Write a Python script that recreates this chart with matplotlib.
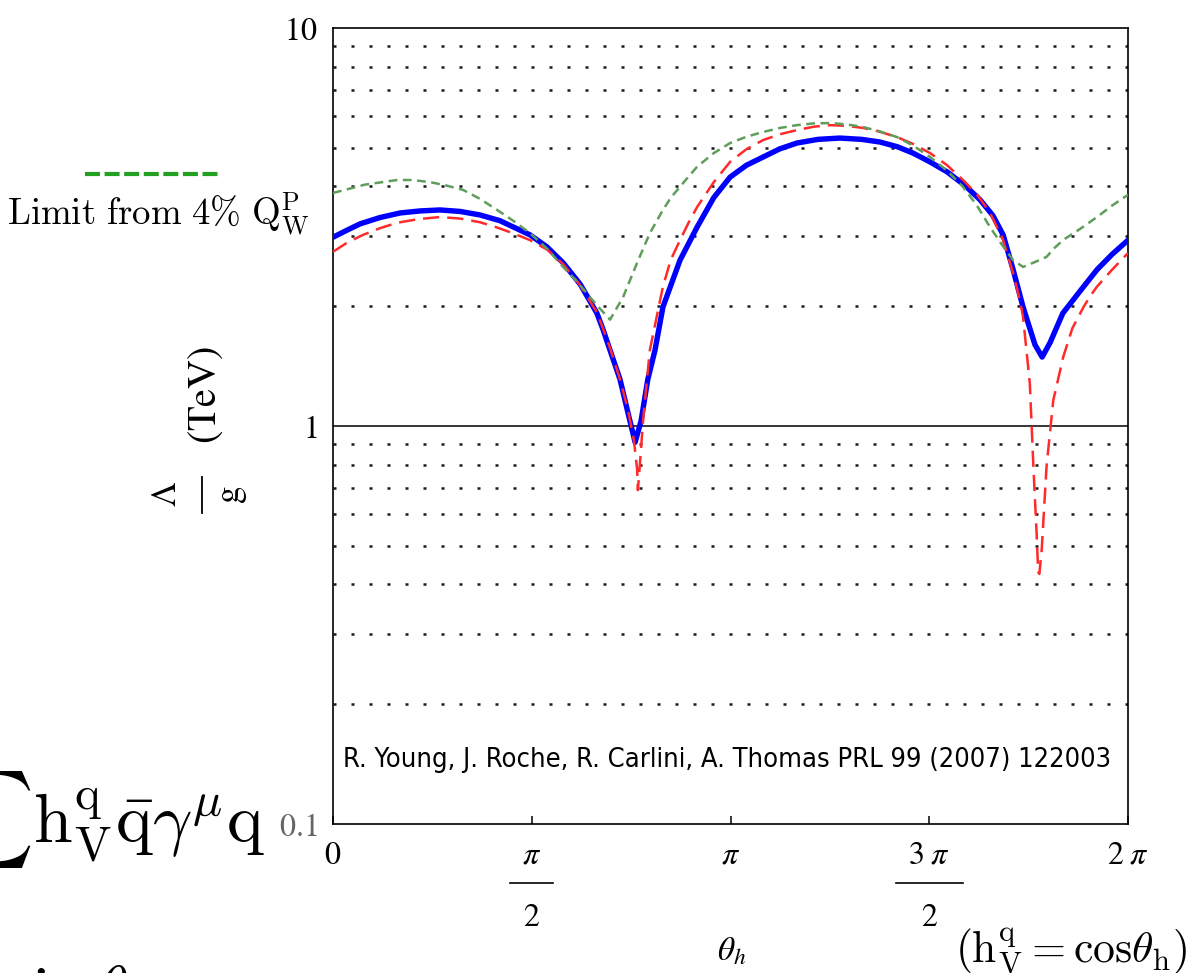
import numpy as np
import matplotlib
matplotlib.use("Agg")
import matplotlib.pyplot as plt
import matplotlib.transforms as mtransforms
from matplotlib.ticker import LogLocator, NullFormatter
from matplotlib.lines import Line2D

plt.rcParams['mathtext.fontset'] = 'stix'
plt.rcParams['font.family'] = ['DejaVu Sans']

# ---- data (theta in units of pi, Lambda/g in TeV) ----
blue_theta = [0.000, 0.034, 0.068, 0.118, 0.169, 0.219, 0.269, 0.320, 0.370, 0.420,
              0.496, 0.538, 0.579, 0.622, 0.664, 0.680, 0.697, 0.722, 0.742, 0.760,
              0.775, 0.792, 0.810, 0.830, 0.873, 0.916, 0.958, 0.999, 1.040, 1.082,
              1.124, 1.167, 1.220, 1.275, 1.330, 1.376, 1.420, 1.459, 1.500, 1.545,
              1.590, 1.628, 1.660, 1.686, 1.711, 1.736, 1.766, 1.784, 1.804, 1.836,
              1.879, 1.922, 1.960, 2.000]
blue_val = [2.98, 3.10, 3.22, 3.34, 3.43, 3.47, 3.49, 3.46, 3.39, 3.28,
            3.02, 2.82, 2.57, 2.27, 1.92, 1.74, 1.55, 1.31, 1.08, 0.91,
            1.03, 1.31, 1.55, 1.99, 2.61, 3.16, 3.75, 4.22, 4.52, 4.74,
            4.97, 5.14, 5.25, 5.29, 5.25, 5.17, 5.03, 4.85, 4.62, 4.35,
            4.02, 3.70, 3.38, 3.02, 2.47, 1.99, 1.60, 1.49, 1.62, 1.92,
            2.18, 2.47, 2.70, 2.93]

red_theta = [0.000, 0.036, 0.075, 0.118, 0.161, 0.215, 0.269, 0.320, 0.370, 0.410,
             0.453, 0.496, 0.540, 0.579, 0.620, 0.664, 0.680, 0.697, 0.722, 0.742,
             0.757, 0.765, 0.767, 0.772, 0.780, 0.790, 0.797, 0.830, 0.850, 0.873,
             0.895, 0.916, 0.958, 0.999, 1.040, 1.082, 1.125, 1.167, 1.210, 1.250,
             1.290, 1.333, 1.375, 1.419, 1.460, 1.502, 1.545, 1.585, 1.620, 1.653,
             1.685, 1.711, 1.728, 1.736, 1.753, 1.762, 1.770, 1.774, 1.777, 1.783,
             1.795, 1.812, 1.837, 1.860, 1.888, 1.905, 1.922, 1.960, 2.000]
red_val = [2.74, 2.89, 3.02, 3.14, 3.24, 3.31, 3.35, 3.32, 3.25, 3.16,
           3.05, 2.93, 2.77, 2.55, 2.27, 1.93, 1.75, 1.57, 1.31, 1.10,
           0.92, 0.78, 0.69, 0.80, 1.03, 1.31, 1.55, 2.24, 2.62, 2.93,
           3.25, 3.55, 4.10, 4.61, 4.96, 5.23, 5.41, 5.54, 5.65, 5.70,
           5.68, 5.61, 5.49, 5.32, 5.11, 4.85, 4.52, 4.15, 3.82, 3.43,
           2.95, 2.42, 2.07, 1.88, 1.28, 0.79, 0.54, 0.43, 0.425, 0.49,
           0.79, 1.16, 1.49, 1.76, 1.99, 2.12, 2.24, 2.47, 2.72]

green_theta = [0.000, 0.080, 0.161, 0.200, 0.244, 0.285, 0.327, 0.370, 0.413, 0.455,
               0.496, 0.540, 0.579, 0.615, 0.646, 0.670, 0.697, 0.730, 0.765, 0.797,
               0.830, 0.850, 0.873, 0.895, 0.916, 0.958, 0.999, 1.040, 1.082, 1.125,
               1.167, 1.210, 1.250, 1.290, 1.333, 1.375, 1.419, 1.460, 1.502, 1.545,
               1.585, 1.620, 1.653, 1.680, 1.711, 1.736, 1.765, 1.795, 1.815, 1.836,
               1.880, 1.922, 1.960, 2.000]
green_val = [3.85, 4.04, 4.15, 4.15, 4.10, 4.02, 3.92, 3.72, 3.49, 3.27,
             3.05, 2.78, 2.51, 2.30, 2.11, 1.98, 1.85, 2.11, 2.57, 3.05,
             3.49, 3.75, 3.99, 4.24, 4.48, 4.85, 5.14, 5.33, 5.48, 5.61,
             5.70, 5.76, 5.77, 5.73, 5.64, 5.50, 5.32, 5.06, 4.74, 4.38,
             3.99, 3.58, 3.16, 2.88, 2.61, 2.51, 2.58, 2.66, 2.80, 2.93,
             3.13, 3.35, 3.58, 3.81]

xtick_pos = [0.0, 0.5, 1.0, 1.5, 2.0]  # units of pi
xtick_num = [r'$0$', r'$\pi$', r'$\pi$', r'$3\;\pi$', r'$2\;\pi$']
xtick_den = [None, r'$2$', None, r'$2$', None]
ytick_pos = [0.1, 1, 10]
ytick_labels = [r'$0.1$', r'$1$', r'$10$']

W, H = 1196, 973
fig = plt.figure(figsize=(W / 100, H / 100), dpi=100)
ax = fig.add_axes([333 / W, 1 - 824 / H, 795 / W, 796 / H])
ax.set_yscale('log')
ax.set_xlim(0, 2 * np.pi)
ax.set_ylim(0.1, 10)

ax.plot(np.array(blue_theta) * np.pi, blue_val, color='#0000ff', lw=3.9,
        solid_joinstyle='round', solid_capstyle='round', zorder=3)
ax.plot(np.array(red_theta) * np.pi, red_val, color='#ff2a2a', lw=1.8,
        dashes=(6.5, 3.2), zorder=4)
ax.plot(np.array(green_theta) * np.pi, green_val, color='#5e9e5a', lw=1.8,
        dashes=(3.5, 2.2), zorder=5)

ax.axhline(1, color='black', lw=1.1, zorder=2)
ax.yaxis.set_minor_locator(LogLocator(base=10, subs=np.arange(2, 10)))
ax.yaxis.set_minor_formatter(NullFormatter())
ax.grid(which='minor', axis='y', color='#1a1a1a', lw=1.8, linestyle=(0, (1.2, 6)))

ax.set_yticks(ytick_pos)
ax.set_yticklabels(ytick_labels)
ax.get_yticklabels()[0].set_color('#666666')
ax.tick_params(axis='y', which='both', length=0, pad=11, labelsize=23)

ax.set_xticks(np.array(xtick_pos) * np.pi)
ax.set_xticklabels([''] * len(xtick_pos))
ax.tick_params(axis='x', which='both', direction='in', length=6, width=1.1, pad=12)
for s in ax.spines.values():
    s.set_linewidth(1.2)

# manual tick labels (stacked fractions)
btr = mtransforms.blended_transform_factory(ax.transData, fig.transFigure)
for p, num, den in zip(xtick_pos, xtick_num, xtick_den):
    xv = p * np.pi
    fig.text(xv, 1 - 840 / H, num, transform=btr, fontsize=23,
             ha='center', va='top')
    if den is not None:
        hw = (0.17 if len(num) < 8 else 0.265)
        fig.add_artist(Line2D([xv - hw, xv + hw], [1 - 883 / H] * 2,
                              transform=btr, color='black', lw=1.2))
        fig.text(xv, 1 - 902 / H, den, transform=btr, fontsize=23,
                 ha='center', va='top')

fig.text(343 / W, 1 - 767 / H,
         'R. Young, J. Roche, R. Carlini, A. Thomas PRL 99 (2007) 122003',
         fontsize=19.5, family='DejaVu Sans', fontstretch='condensed',
         va='baseline', ha='left')

# y label: Lambda / g (TeV), rotated
fig.text(205 / W, 1 - 395 / H, r'$(\mathrm{TeV})$', fontsize=29, rotation=90,
         ha='center', va='center')
fig.text(166 / W, 1 - 494 / H, r'$\Lambda$', fontsize=25, rotation=90,
         ha='center', va='center')
fig.text(232 / W, 1 - 495 / H, r'$\mathrm{g}$', fontsize=25, rotation=90,
         ha='center', va='center')
fig.add_artist(Line2D([202 / W, 202 / W], [1 - 477 / H, 1 - 513 / H],
                      color='black', lw=1.3))

# x label and note
fig.text(732 / W, 1 - 951 / H, r'$\theta_h$', fontsize=24, ha='center', va='center')
fig.text(955 / W, 1 - 962 / H, r'$(\mathrm{h}_\mathrm{V}^\mathrm{q}=\mathrm{cos}\theta_\mathrm{h})$',
         fontsize=31.5, math_fontfamily='cm', ha='left', va='baseline')

# legend-like annotation
fig.add_artist(Line2D([85 / W, 218 / W], [1 - 174 / H, 1 - 174 / H],
                      color='#22a022', lw=3, dashes=(3.6, 1.1)))
fig.text(7 / W, 1 - 226 / H, r'$\mathrm{Limit\ from\ 4\%\ Q_W^P}$',
         fontsize=26.5, math_fontfamily='cm', ha='left', va='baseline')

# slide fragments (cut off)
fig.text(265 / W, 1 - 843 / H,
         r'$\sum\mathrm{h}_\mathrm{V}^\mathrm{q}\bar{\mathrm{q}}\gamma^{\mu}\mathrm{q}$',
         fontsize=50, math_fontfamily='cm', ha='right', va='baseline')
fig.text(7 / W, 1 - 1011 / H, r'$\sin\theta$', fontsize=47, math_fontfamily='cm',
         ha='left', va='baseline')

fig.savefig('out.png', dpi=100)
